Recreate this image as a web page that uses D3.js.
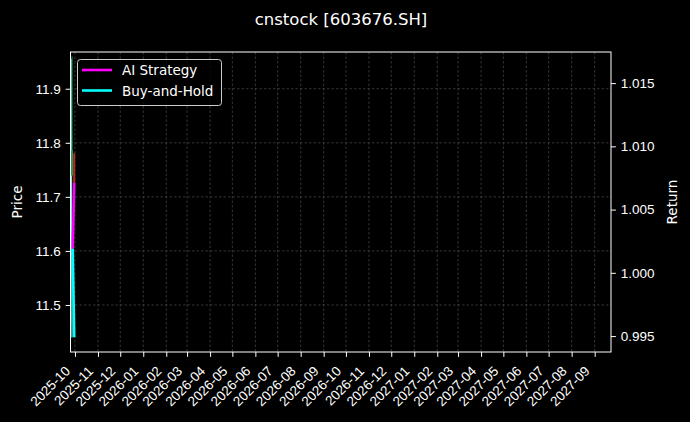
<!DOCTYPE html>
<html>
<head>
<meta charset="UTF-8">
<title>cnstock [603676.SH]</title>
<script src="https://d3js.org/d3.v7.min.js"></script>
<style>
  body { margin: 0; background: #000; }
  svg { display: block; background: #000; font-family: 'DejaVu Sans', sans-serif; }
  .tick text { fill: #fff; }
</style>
</head>
<body>
<svg id="chart" width="690" height="422"></svg>
<script>
  // data
  const priceDates = ["2025-09-26", "2025-09-27"];
  const priceLine = [11.955, 11.44];

  const candleDates = ["2025-09-27", "2025-09-30"];
  const candleOpen = [11.740, 11.780];
  const candleClose = [11.786, 11.725];
  const candleHigh = [11.960, 11.782];
  const candleLow = [11.738, 11.723];

  const returnDates = ["2025-09-28", "2025-09-30"];
  const aiReturn = [1.0019, 1.0071];
  const bhReturn = [1.0019, 0.9949];

  const monthTicks = ["2025-10", "2025-11", "2025-12", "2026-01", "2026-02", "2026-03",
    "2026-04", "2026-05", "2026-06", "2026-07", "2026-08", "2026-09", "2026-10", "2026-11",
    "2026-12", "2027-01", "2027-02", "2027-03", "2027-04", "2027-05", "2027-06", "2027-07",
    "2027-08", "2027-09"];
  const priceTicks = [11.5, 11.6, 11.7, 11.8, 11.9];
  const returnTicks = [0.995, 1.000, 1.005, 1.010, 1.015];

  const parseDay = d3.timeParse("%Y-%m-%d");
  const parseMonth = d3.timeParse("%Y-%m");

  const svg = d3.select("#chart");
  const plotL = 70.5, plotR = 611, plotT = 52, plotB = 352;

  const x = d3.scaleTime()
    .domain([parseDay("2025-09-25"), parseDay("2027-09-23")])
    .range([plotL, plotR]);
  const yPrice = d3.scaleLinear().domain([11.413, 11.968]).range([plotB, plotT]);
  const yRet = d3.scaleLinear().domain([0.99374, 1.01746]).range([plotB, plotT]);

  // grid
  const grid = svg.append("g").attr("stroke", "#4a4a4a").attr("stroke-width", 0.7)
    .attr("stroke-dasharray", "2.5,2");
  grid.selectAll(".vg").data(monthTicks).join("line")
    .attr("x1", d => x(parseMonth(d))).attr("x2", d => x(parseMonth(d)))
    .attr("y1", plotT).attr("y2", plotB);
  grid.selectAll(".hg").data(priceTicks).join("line")
    .attr("x1", plotL).attr("x2", plotR)
    .attr("y1", d => yPrice(d)).attr("y2", d => yPrice(d));

  // price line
  const priceData = priceDates.map((d, i) => ({ date: parseDay(d), v: priceLine[i] }));
  svg.append("path").datum(priceData)
    .attr("fill", "none").attr("stroke", "#7fe9e0").attr("stroke-width", 1.2)
    .attr("d", d3.line().x(d => x(d.date)).y(d => yPrice(d.v)));

  // candles
  const candles = candleDates.map((d, i) => ({
    date: parseDay(d), o: candleOpen[i], c: candleClose[i], h: candleHigh[i], l: candleLow[i]
  }));
  const cg = svg.append("g");
  cg.selectAll(".wick").data(candles).join("line")
    .attr("x1", d => x(d.date)).attr("x2", d => x(d.date))
    .attr("y1", d => yPrice(d.h)).attr("y2", d => yPrice(d.l))
    .attr("stroke", d => d.c >= d.o ? "#1a9e5a" : "#c0281e").attr("stroke-width", 1);
  cg.selectAll(".body").data(candles).join("rect")
    .attr("x", d => x(d.date) - 1).attr("width", 2)
    .attr("y", d => yPrice(Math.max(d.o, d.c)))
    .attr("height", d => Math.abs(yPrice(d.o) - yPrice(d.c)))
    .attr("fill", d => d.c >= d.o ? "#1a9e5a" : "#c0281e");

  // return lines
  const retLine = d3.line().x(d => x(d.date)).y(d => yRet(d.v));
  const aiData = returnDates.map((d, i) => ({ date: parseDay(d), v: aiReturn[i] }));
  const bhData = returnDates.map((d, i) => ({ date: parseDay(d), v: bhReturn[i] }));
  svg.append("path").datum(aiData).attr("fill", "none").attr("stroke", "#ff00ff")
    .attr("stroke-width", 2.6).attr("d", retLine);
  svg.append("path").datum(bhData).attr("fill", "none").attr("stroke", "#00ffff")
    .attr("stroke-width", 2.6).attr("d", retLine);

  // axes
  const fs = "13.5px";
  const gx = svg.append("g").attr("transform", `translate(0,${plotB})`)
    .call(d3.axisBottom(x).tickValues(monthTicks.map(parseMonth))
      .tickFormat(d3.timeFormat("%Y-%m")).tickSize(4.9).tickPadding(0));
  gx.selectAll("text")
    .attr("font-size", fs)
    .attr("text-anchor", "end")
    .attr("dy", null).attr("y", null)
    .attr("transform", "translate(-4.5,20) rotate(-45)");

  const gl = svg.append("g").attr("transform", `translate(${plotL},0)`)
    .call(d3.axisLeft(yPrice).tickValues(priceTicks).tickFormat(d3.format(".1f"))
      .tickSize(4.9).tickPadding(4.9));
  gl.selectAll("text").attr("font-size", fs);

  const gr = svg.append("g").attr("transform", `translate(${plotR},0)`)
    .call(d3.axisRight(yRet).tickValues(returnTicks).tickFormat(d3.format(".3f"))
      .tickSize(4.9).tickPadding(4.9));
  gr.selectAll("text").attr("font-size", fs);

  [gx, gl, gr].forEach(g => {
    g.select(".domain").remove();
    g.selectAll(".tick line").attr("stroke", "#fff").attr("stroke-width", 1);
  });

  // spines
  svg.append("rect").attr("x", plotL).attr("y", plotT)
    .attr("width", plotR - plotL).attr("height", plotB - plotT)
    .attr("fill", "none").attr("stroke", "#fff").attr("stroke-width", 1);

  // labels
  svg.append("text").attr("x", 341).attr("y", 25).attr("text-anchor", "middle")
    .attr("fill", "#fff").attr("font-size", "16.5px").text("cnstock [603676.SH]");
  svg.append("text").attr("transform", `translate(22,${(plotT + plotB) / 2}) rotate(-90)`)
    .attr("text-anchor", "middle").attr("fill", "#fff").attr("font-size", fs).text("Price");
  svg.append("text").attr("transform", `translate(677,${(plotT + plotB) / 2}) rotate(-90)`)
    .attr("text-anchor", "middle").attr("fill", "#fff").attr("font-size", fs).text("Return");

  // legend
  const legendNames = ["AI Strategy", "Buy-and-Hold"];
  const legendColors = ["#ff00ff", "#00ffff"];
  const lg = svg.append("g");
  lg.append("rect").attr("x", 77.5).attr("y", 59.5).attr("width", 144).attr("height", 46)
    .attr("rx", 3).attr("fill", "#000").attr("fill-opacity", 0.8)
    .attr("stroke", "#cccccc").attr("stroke-width", 1);
  const items = lg.selectAll(".item").data(legendNames).join("g")
    .attr("transform", (d, i) => `translate(0,${70 + i * 20.5})`);
  items.append("line").attr("x1", 82).attr("x2", 112).attr("y1", 0).attr("y2", 0)
    .attr("stroke", (d, i) => legendColors[i]).attr("stroke-width", 2.6);
  items.append("text").attr("x", 122).attr("y", 5).attr("fill", "#fff")
    .attr("font-size", fs).text(d => d);
</script>
</body>
</html>
